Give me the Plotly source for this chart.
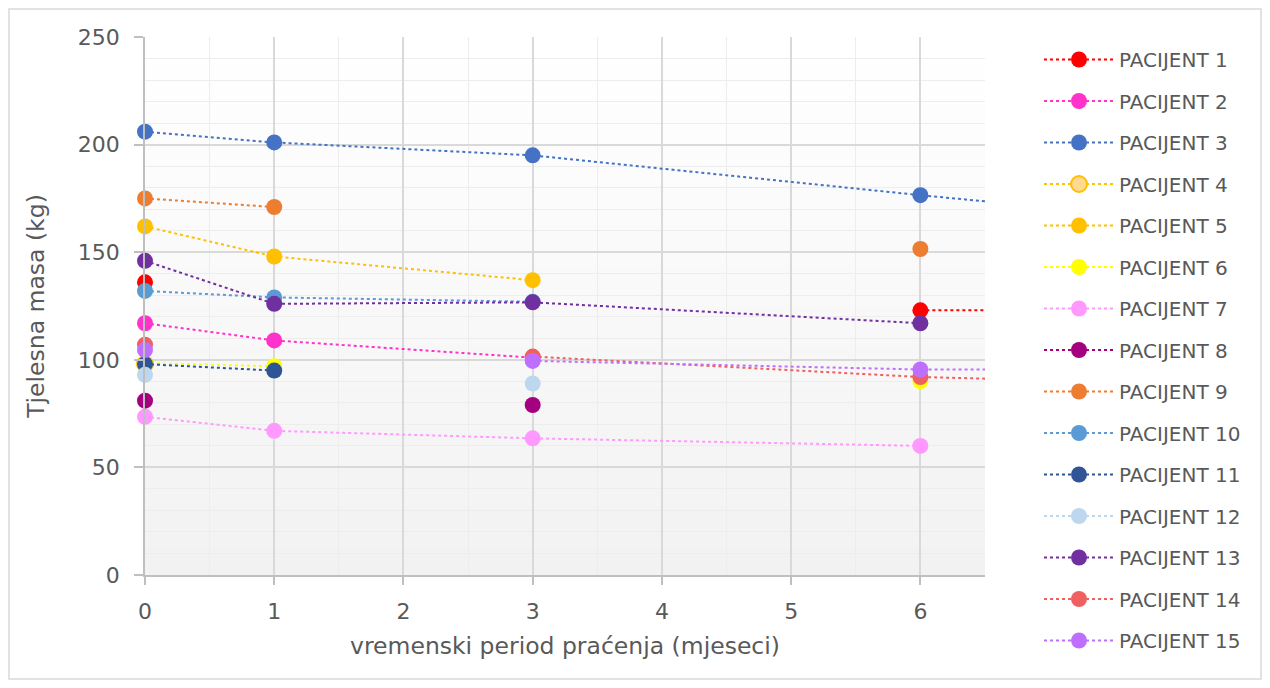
import plotly.graph_objects as go

months = [0, 1, 3, 6, 12]
patients = [f"PACIJENT {i}" for i in range(1, 16)]

p1 = [136, None, None, 123, 123.5]
p2 = [117, 109, 101, None, None]
p3 = [206, 201, 195, 176.5, 142]
p4 = [98, None, None, None, None]
p5 = [162, 148, 137, None, None]
p6 = [98.5, 97, None, 90, None]
p7 = [73.5, 67, 63.5, 60, None]
p8 = [81, None, 79, None, None]
p9 = [175, 171, None, 151.5, None]
p10 = [132, 129, 127, None, None]
p11 = [98, 95, None, None, None]
p12 = [93, None, 89, None, None]
p13 = [146, 126, 126.7, 117, None]
p14 = [107, None, 101.5, 92, 83]
p15 = [104.5, None, 99.5, 95.5, 95]

series = [p1, p2, p3, p4, p5, p6, p7, p8, p9, p10, p11, p12, p13, p14, p15]
colors = ["#FF0000", "#FF33CC", "#4472C4", "#FFC000", "#FFC000", "#FFFF00",
          "#FF99FF", "#A5007F", "#ED7D31", "#5B9BD5", "#2F5597", "#BDD7EE",
          "#7030A0", "#F06060", "#BF6FFF"]

FONT = "DejaVu Sans"
GREY = "#595959"

fig = go.Figure()
for name, vals, col in zip(patients, series, colors):
    if name == "PACIJENT 4":
        marker = dict(size=16, color="#FFD98F", line=dict(color=col, width=2))
    else:
        marker = dict(size=16, color=col, line=dict(width=0))
    fig.add_trace(go.Scatter(
        x=months, y=vals, name=name, mode="lines+markers",
        line=dict(color=col, width=2, dash="dot"),
        marker=marker, connectgaps=False, cliponaxis=False,
        legendgroup=name,
    ))

FW, FH = 1254, 672
L, T, W, H = 137, 29, 840, 538

# background gradient bands (white at top to light grey at bottom)
nb = 40
shapes = []
for i in range(nb):
    t = i / (nb - 1)
    c = int(round(242 + (255 - 242) * t))
    shapes.append(dict(type="rect", xref="paper", yref="paper",
                       x0=0, x1=1, y0=i / nb, y1=(i + 1) / nb + 0.002,
                       fillcolor=f"rgb({c},{c},{c})", line=dict(width=0),
                       layer="below"))
# chart border
shapes.append(dict(type="rect", xref="paper", yref="paper",
                   x0=(1 - L) / W, x1=(FW - 1 - L) / W,
                   y0=(T + H - (FH - 1)) / H, y1=(T + H - 1) / H,
                   line=dict(color="#D9D9D9", width=1.5), fillcolor="rgba(0,0,0,0)",
                   layer="below"))

fig.update_layout(
    width=FW, height=FH,
    margin=dict(l=L, r=FW - L - W, t=T, b=FH - T - H),
    paper_bgcolor="white", plot_bgcolor="rgba(0,0,0,0)",
    font=dict(family=FONT, color=GREY),
    shapes=shapes,
    showlegend=True,
    legend=dict(x=(1031 - L) / W, xanchor="left", y=(T + H - 32) / H, yanchor="top",
                font=dict(size=20, color=GREY, family=FONT),
                tracegroupgap=12.5, itemwidth=70, maxheight=660,
                bgcolor="rgba(0,0,0,0)"),
    xaxis=dict(range=[0, 6.5], dtick=1, tick0=0,
               showgrid=True, gridcolor="#D9D9D9", gridwidth=1.5,
               minor=dict(dtick=0.5, showgrid=True, gridcolor="#EDEDED", gridwidth=1.2),
               showline=True, linecolor="#BFBFBF", linewidth=1.5,
               ticks="outside", ticklen=8, tickcolor="#BFBFBF", tickwidth=1.5,
               ticklabelstandoff=8,
               tickfont=dict(size=22, color=GREY, family=FONT),
               title=dict(text="vremenski period praćenja (mjeseci)",
                          font=dict(size=23.5, color=GREY, family=FONT), standoff=14),
               zeroline=False),
    yaxis=dict(range=[0, 250], dtick=50, tick0=0,
               showgrid=True, gridcolor="#D9D9D9", gridwidth=1.5,
               minor=dict(dtick=10, showgrid=True, gridcolor="#EDEDED", gridwidth=1.2),
               showline=True, linecolor="#BFBFBF", linewidth=1.5,
               ticks="outside", ticklen=9, tickcolor="#BFBFBF", tickwidth=1.5,
               ticklabelstandoff=10,
               tickfont=dict(size=22, color=GREY, family=FONT),
               title=dict(text="Tjelesna masa (kg)",
                          font=dict(size=23.5, color=GREY, family=FONT), standoff=27),
               zeroline=False),
)

fig.write_html("out.html")
